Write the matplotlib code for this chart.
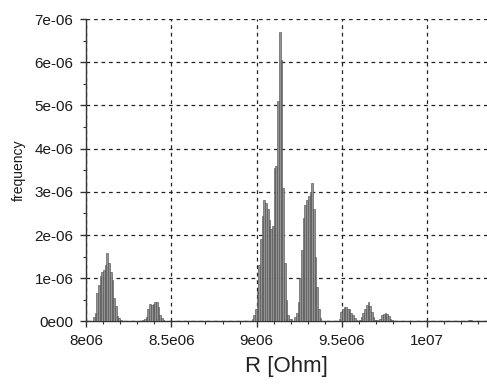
import numpy as np
import matplotlib
matplotlib.use("Agg")
import matplotlib.pyplot as plt
from matplotlib.ticker import FixedLocator, MultipleLocator

plt.rcParams['font.family'] = ['Liberation Sans', 'DejaVu Sans']

# ==============================
# DATA (frequency in units of 1e-6, bins of 1e4 Ohm)
# ==============================
bin_width = 1e4

# cluster near 8.1e6
c1_start = 8.03e6
c1_freq = [0.02, 0.1, 0.2, 0.65, 0.85, 1.05, 1.15, 1.2, 1.3, 1.58,
           1.35, 1.15, 0.95, 0.55, 0.35, 0.12, 0.08, 0.03, 0.02, 0.01]

# cluster near 8.4e6
c2_start = 8.32e6
c2_freq = [0.02, 0.03, 0.06, 0.1, 0.28, 0.4, 0.38, 0.4, 0.45, 0.44,
           0.34, 0.15, 0.08, 0.03]

# main cluster near 9.1e6
c3_start = 8.97e6
c3_freq = [0.05, 0.15, 0.3, 0.7, 1.3, 1.9, 2.45, 2.8, 2.75, 2.6,
           2.35, 2.15, 2.2, 3.55, 3.6, 5.1, 6.7, 6.05, 3.1, 1.35,
           0.5, 0.15, 0.05]

# cluster near 9.3e6
c4_start = 9.20e6
c4_freq = [0.05, 0.02, 0.1, 0.2, 0.45, 1.0, 1.65, 2.4, 2.7, 2.8,
           2.9, 3.0, 3.2, 2.6, 1.5, 0.8, 0.3, 0.08, 0.02]

# small clusters 9.5e6 - 9.8e6
c5_start = 9.48e6
c5_freq = [0.05, 0.22, 0.3, 0.34, 0.33, 0.3, 0.28, 0.2, 0.15, 0.07,
           0.03, 0.02, 0.03, 0.1, 0.2, 0.28, 0.38, 0.45, 0.35, 0.22,
           0.1, 0.04, 0.03, 0.02, 0.05, 0.14, 0.18, 0.19, 0.17, 0.12,
           0.06, 0.03, 0.02, 0.01]

# tail near 1.025e7
c6_start = 1.023e7
c6_freq = [0.02, 0.03, 0.03, 0.02]

clusters = [(c1_start, c1_freq), (c2_start, c2_freq), (c3_start, c3_freq),
            (c4_start, c4_freq), (c5_start, c5_freq), (c6_start, c6_freq)]

x_ticks = [8e6, 8.5e6, 9e6, 9.5e6, 1e7]
x_tick_labels = ["8e06", "8.5e06", "9e06", "9.5e06", "1e07"]
y_ticks = [0, 1e-6, 2e-6, 3e-6, 4e-6, 5e-6, 6e-6, 7e-6]
y_tick_labels = ["0e00", "1e-06", "2e-06", "3e-06", "4e-06", "5e-06", "6e-06", "7e-06"]

# ==============================
# PLOT
# ==============================
fig = plt.figure(figsize=(4.87, 3.84), dpi=100)
ax = fig.add_axes([0.1766, 0.1628, 0.8234, 0.7877])

for start, freq in clusters:
    left = start + bin_width * np.arange(len(freq))
    heights = np.array(freq) * 1e-6
    ax.bar(left, heights, width=bin_width, align='edge',
           color='#939393', edgecolor='#4a4a4a', linewidth=0.4, zorder=3)

ax.set_xlim(8e6, 1.035e7)
ax.set_ylim(0, 7e-6)

ax.xaxis.set_major_locator(FixedLocator(x_ticks))
ax.set_xticklabels(x_tick_labels)
ax.xaxis.set_minor_locator(MultipleLocator(1e5))
ax.yaxis.set_major_locator(FixedLocator(y_ticks))
ax.set_yticklabels(y_tick_labels)
ax.yaxis.set_minor_locator(MultipleLocator(5e-7))

ax.tick_params(axis='both', which='major', length=4, width=1, labelsize=11,
               color='#333333', labelcolor='#1a1a1a', pad=5)
ax.tick_params(axis='both', which='minor', length=2.5, width=0.8, color='#333333')

ax.grid(True, which='major', color='#222222', linestyle=(0, (3, 3)), linewidth=0.9, zorder=1)

for s in ['top', 'right']:
    ax.spines[s].set_visible(False)
for s in ['left', 'bottom']:
    ax.spines[s].set_color('#333333')
    ax.spines[s].set_linewidth(1.0)

ax.set_xlabel("R [Ohm]", fontsize=16, color='#222222', labelpad=6)
ax.set_ylabel("frequency", fontsize=10, color='#1a1a1a', labelpad=6)

plt.savefig("out.png", dpi=100)
plt.close()
